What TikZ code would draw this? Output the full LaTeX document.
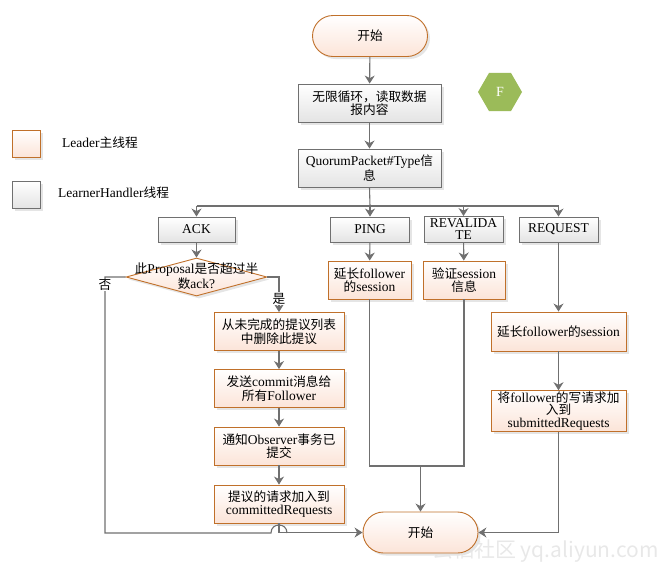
\documentclass[tikz,border=0pt]{standalone}
\usepackage{fontspec}
\setmainfont{Liberation Serif}
\newfontfamily\cjk[Scale=0.94]{Noto Sans CJK SC}
\newfontfamily\cjkwm{Noto Sans CJK SC}
\newcommand\zh[1]{{\cjk #1}}
\usetikzlibrary{shapes.geometric,arrows.meta,shadows}
\definecolor{lncol}{HTML}{707070}
\definecolor{obord}{HTML}{C0702A}
\definecolor{ofill}{HTML}{FCE4D8}
\definecolor{gfill}{HTML}{E4E4E4}
\definecolor{fgreen}{HTML}{9BBB59}
\tikzset{
  box/.style={draw, line width=0.9pt, align=center, inner sep=1pt,
    font=\fontsize{13.5}{13.5}\selectfont,
    drop shadow={shadow xshift=2.5pt, shadow yshift=-2.5pt, fill=black!10, opacity=1}},
  obox/.style={box, draw=obord, top color=white, bottom color=ofill},
  gbox/.style={box, draw=lncol, top color=white, bottom color=gfill},
  pill/.style={obox, rounded corners=20.5pt, minimum width=115pt, minimum height=41pt},
  wire/.style={draw=lncol, line width=1.1pt},
  arr/.style={wire, -{Stealth[length=8pt,width=10pt,inset=2.5pt]}},
  lbl/.style={font=\fontsize{13.5}{13.5}\selectfont, inner sep=1pt},
}
\begin{document}
\begin{tikzpicture}[x=1pt,y=-1pt]
\useasboundingbox (0,0) rectangle (662,571);
% watermark
\node[text=black!9, font=\cjkwm\fontsize{21}{21}\selectfont, anchor=west, inner sep=0] (wm) at (432,551) {云栖社区 yq.aliyun.com};

% legend
\node[obox, minimum width=28pt, minimum height=27pt] (leg1) at (26,143.5) {};
\node[lbl, anchor=west] (leg1t) at (61,143) {Leader\zh{主线程}};
\node[gbox, minimum width=28pt, minimum height=27pt] (leg2) at (26,194.5) {};
\node[lbl, anchor=west] (leg2t) at (57,192.5) {LearnerHandler\zh{线程}};

% top
\node[pill] (start) at (370,36) {\zh{开始}};
\node[gbox, minimum width=143pt, minimum height=38pt] (loop) at (369.5,103) {\zh{无限循环，读取数据}\\\zh{报内容}};
\node[regular polygon, regular polygon sides=6, minimum size=44pt, inner sep=0, fill=fgreen, text=white,
  font=\fontsize{14}{14}\selectfont] (F) at (500,92) {F};
\node[gbox, minimum width=143pt, minimum height=38pt] (qp) at (369.5,168) {QuorumPacket\#Type\zh{信}\\\zh{息}};

% type boxes
\node[gbox, minimum width=77pt, minimum height=25pt] (ack) at (196.5,229.5) {ACK};
\node[gbox, minimum width=79pt, minimum height=25pt] (ping) at (370,229.5) {PING};
\node[gbox, minimum width=79pt, minimum height=26pt, font=\fontsize{13.5}{12}\selectfont] (rev) at (463.5,229.5) {REVALIDA\\TE};
\node[gbox, minimum width=79pt, minimum height=25pt] (req) at (558.5,229.5) {REQUEST};

% decision
\node[diamond, draw=obord, line width=0.9pt, top color=white, bottom color=ofill, minimum width=141pt, minimum height=38pt, inner sep=0,
  drop shadow={shadow xshift=2.5pt, shadow yshift=-2.5pt, fill=black!10, opacity=1}] (dec) at (196.5,277) {};
\node[lbl, align=center] (dectxt) at (196.5,276) {\zh{此}Proposal\zh{是否超过半}\\\zh{数}ack?};

% ACK chain
\node[obox, minimum width=130pt, minimum height=38pt] (a1) at (279,331.5) {\zh{从未完成的提议列表}\\\zh{中删除此提议}};
\node[obox, minimum width=130pt, minimum height=38pt] (a2) at (279,388.5) {\zh{发送}commit\zh{消息给}\\\zh{所有}Follower};
\node[obox, minimum width=130pt, minimum height=38pt] (a3) at (279,446) {\zh{通知}Observer\zh{事务已}\\\zh{提交}};
\node[obox, minimum width=130pt, minimum height=38pt] (a4) at (279,504) {\zh{提议的请求加入到}\\committedRequests};

% PING / REVALIDATE
\node[obox, minimum width=83pt, minimum height=38pt] (ps) at (369.5,280) {\zh{延长}follower\\\zh{的}session};
\node[obox, minimum width=82pt, minimum height=38pt] (rs) at (464,280) {\zh{验证}session\\\zh{信息}};

% REQUEST chain
\node[obox, minimum width=135pt, minimum height=39pt] (q1) at (558.5,331.5) {\zh{延长}follower\zh{的}session};
\node[obox, minimum width=135pt, minimum height=38pt, font=\fontsize{13.5}{12.5}\selectfont] (q2) at (558.5,411) {\zh{将}follower\zh{的写请求加}\\\zh{入到}\\submittedRequests};

% end
\node[pill] (end) at (420.5,532.5) {\zh{开始}};

% coordinates
\coordinate (bus) at (370,206);
\coordinate (busL) at (196.5,206);
\coordinate (busR) at (558.5,206);
\coordinate (busR2) at (463.5,206);
\coordinate (noA) at (105,277);
\coordinate (noB) at (105,533);
\coordinate (jmpA) at (271,533);
\coordinate (jmpB) at (287,533);
\coordinate (mL) at (369.5,466);
\coordinate (mR) at (464,466);
\coordinate (mC) at (420.5,466);

% connectors
\draw[arr] (start) -- (loop);
\draw[arr] (loop) -- (qp);
\draw[wire] (qp.south) -- (bus);
\draw[wire] (busL) -- (busR);
\draw[arr] (busL) -- (ack);
\draw[arr] (bus) -- (ping);
\draw[arr] (busR2) -- (rev);
\draw[arr] (busR) -- (req);
\draw[arr] (ack) -- (dec);
\draw[arr] (dec.east) -| (a1.north);
\draw[arr] (a1) -- (a2);
\draw[arr] (a2) -- (a3);
\draw[arr] (a3) -- (a4);
\draw[arr] (a4.south) |- (end.west);
\draw[wire] (dec.west) -- (noA) -- (noB) -- (jmpA) .. controls (271,522.3) and (287,522.3) .. (jmpB);
\draw[arr] (ping) -- (ps);
\draw[arr] (rev) -- (rs);
\draw[wire] (ps.south) -- (mL) -- (mR) -- (rs.south);
\draw[arr] (mC) -- (end);
\draw[arr] (req) -- (q1);
\draw[arr] (q1) -- (q2);
\draw[arr] (q2.south) |- (end.east);

% labels
\node[lbl, fill=white, inner sep=0.5pt] (no) at (105,285) {\zh{否}};
\node[lbl, fill=white, inner sep=0.5pt] (yes) at (279,298.5) {\zh{是}};
\end{tikzpicture}
\end{document}
